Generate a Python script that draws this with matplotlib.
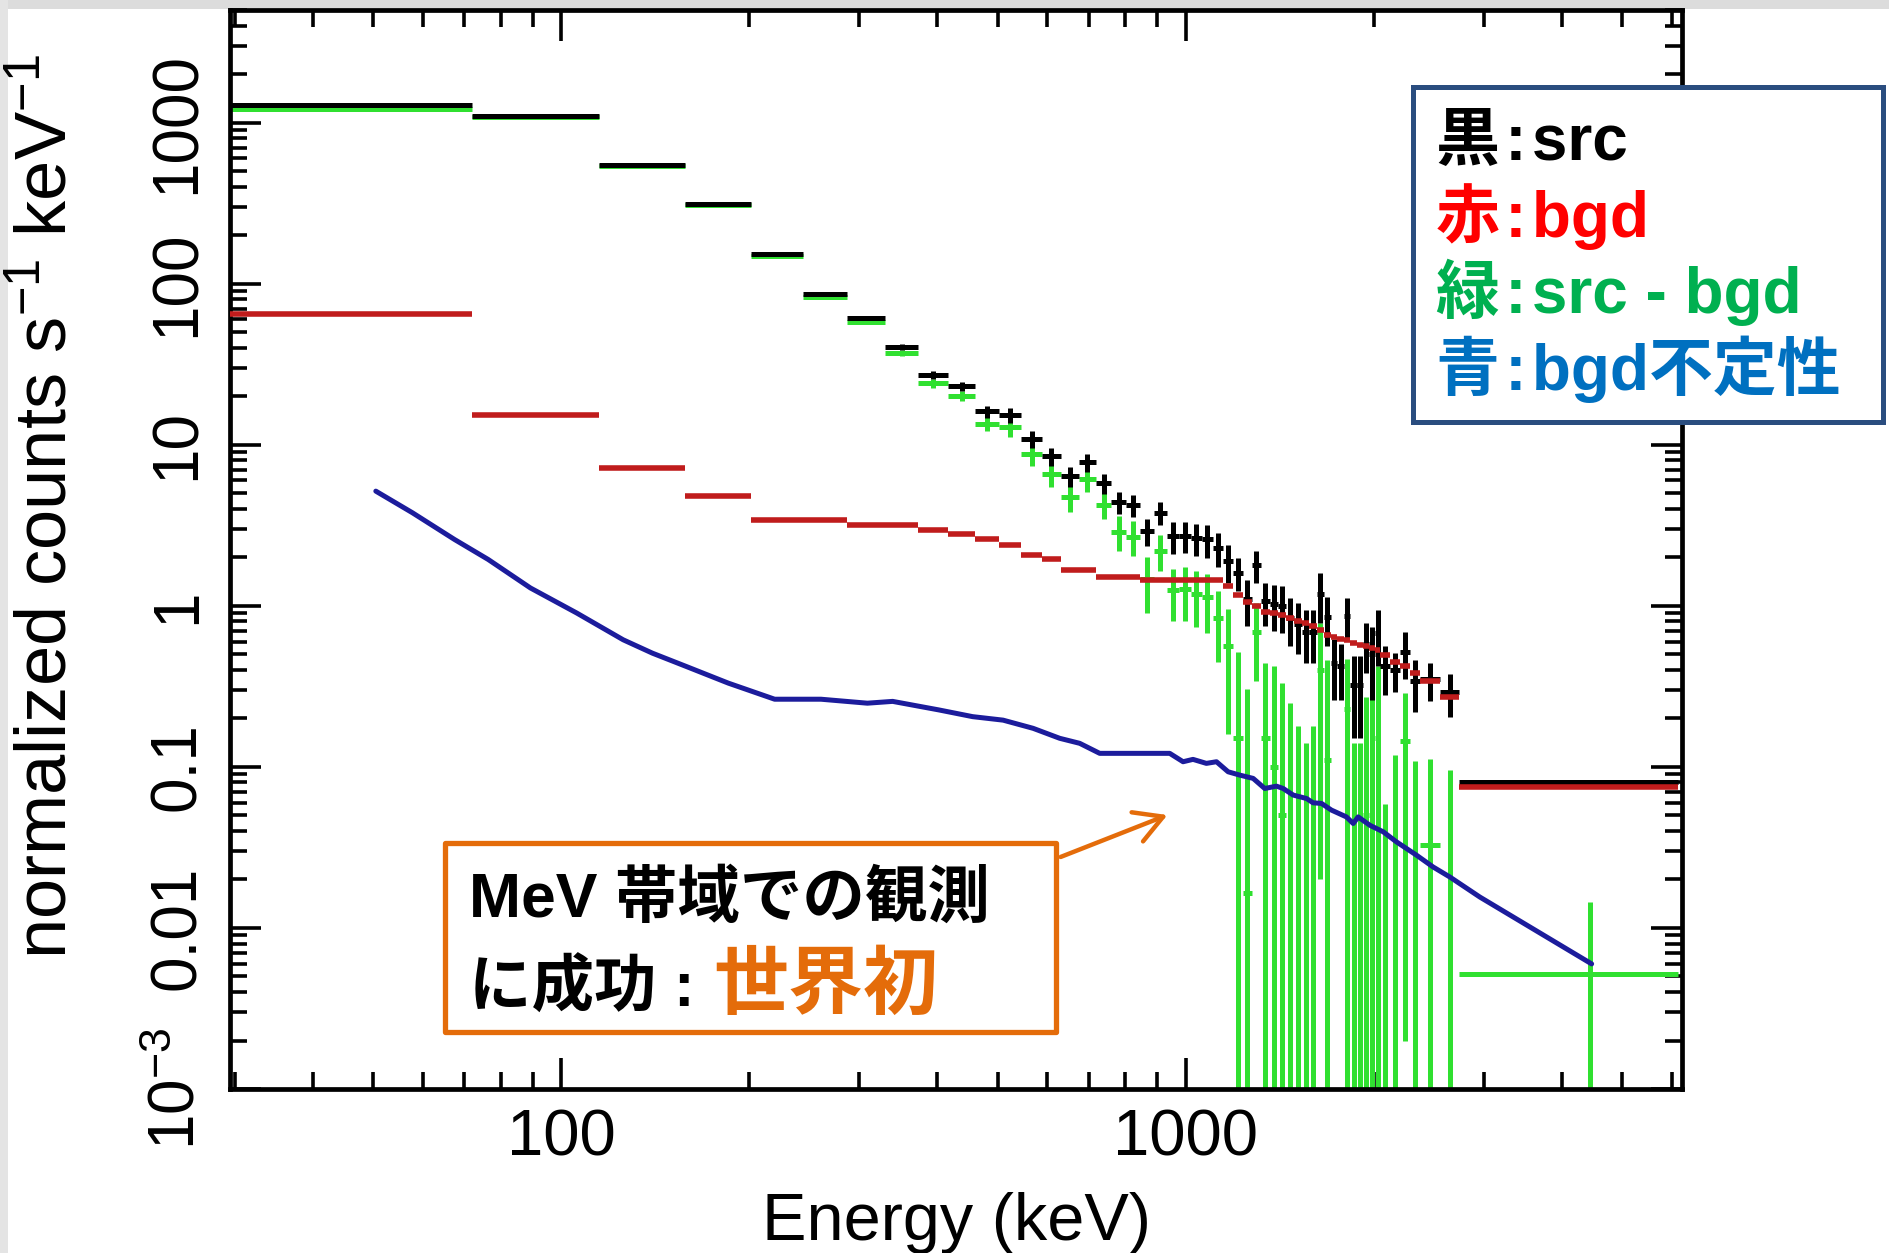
import matplotlib
matplotlib.use("Agg")
import matplotlib.pyplot as plt
from matplotlib.ticker import LogLocator, NullFormatter, FixedLocator, FixedFormatter
from matplotlib.patches import Rectangle, FancyArrowPatch
import numpy as np

plt.rcParams['font.family'] = ['Liberation Sans', 'Noto Sans CJK JP', 'DejaVu Sans']
plt.rcParams['mathtext.default'] = 'regular'

# energy bin edges (keV)
bin_edges = [29, 72, 115, 158, 201, 244, 287, 330, 373, 416,
             459, 502, 545, 588, 631, 674, 717, 760, 803, 846,
             889, 932, 975, 1018, 1061, 1104, 1147, 1190, 1233, 1276,
             1319, 1362, 1405, 1448, 1491, 1534, 1577, 1620, 1663, 1706,
             1749, 1792, 1835, 1878, 1921, 1964, 2007, 2050, 2120, 2205,
             2285, 2370, 2550, 2738, 6142]

# black: src
src = [1280, 1100, 545, 314, 152, 86, 61, 40.4, 27, 23,
       16.1, 15.2, 10.8, 8.5, 6.4, 7.8, 5.75, 4.4, 4.2, 2.91,
       3.78, 2.70, 2.73, 2.64, 2.58, 2.29, 1.89, 1.60, 1.10, 1.78,
       1.07, 1.02, 1.00, 0.84, 0.77, 0.69, 0.69, 1.19, 0.85, 0.44,
       0.42, 0.87, 0.32, 0.32, 0.58, 0.50, 0.68,
       0.42, 0.40, 0.52, 0.34, 0.35, 0.29,
       0.080]
src_err = [10, 10, 6, 4, 2.5, 2.0, 1.8, 1.6, 1.5, 1.5,
           1.4, 1.6, 1.3, 1.1, 0.9, 1.0, 0.8, 0.7, 0.65, 0.55,
           0.6, 0.6, 0.6, 0.6, 0.6, 0.55, 0.5, 0.37, 0.35, 0.40,
           0.32, 0.32, 0.32, 0.28, 0.27, 0.25, 0.25, 0.41, 0.29, 0.18,
           0.16, 0.25, 0.17, 0.17, 0.20, 0.24, 0.26,
           0.14, 0.11, 0.17, 0.12, 0.093, 0.085,
           0.003]

# red: bgd
bgd = [64.8, 15.2, 7.2, 4.83, 3.39, 3.39, 3.17, 3.17, 2.95, 2.8,
       2.6, 2.4, 2.08, 1.94, 1.68, 1.68, 1.51, 1.51, 1.51, 1.45,
       1.45, 1.45, 1.45, 1.45, 1.45, 1.45, 1.32, 1.17, 1.06, 0.99,
       0.92, 0.90, 0.88, 0.84, 0.80, 0.78, 0.745, 0.71, 0.66, 0.64,
       0.625, 0.615, 0.59, 0.57, 0.56, 0.545, 0.533,
       0.496, 0.45, 0.42, 0.382, 0.34, 0.273,
       0.0753]

# green: src - bgd
diff = [1215, 1085, 538, 309, 148.6, 82.6, 57.8, 37.2, 24.05, 20.2,
        13.5, 12.8, 8.72, 6.56, 4.72, 6.12, 4.24, 2.89, 2.69, 1.46,
        2.2, 1.25, 1.28, 1.19, 1.13, 0.84, 0.56, 0.15, 0.0165, 0.69,
        0.15, 0.10, 0.05, -0.03, -0.07, -0.09, -0.07, 0.40, 0.11, -0.20,
        -0.21, 0.23, -0.05, -0.05, 0.05, 0.0, 0.15,
        -0.08, -0.01, 0.145, -0.02, 0.0326, -0.01,
        0.00519]
diff_err = [10, 10, 6, 4, 2.5, 2.0, 1.8, 1.6, 1.5, 1.5,
            1.4, 1.6, 1.3, 1.1, 0.9, 1.0, 0.8, 0.7, 0.65, 0.56,
            0.55, 0.45, 0.47, 0.45, 0.45, 0.39, 0.40, 0.37, 0.29, 0.35,
            0.29, 0.32, 0.28, 0.28, 0.25, 0.23, 0.25, 0.38, 0.35, 0.18,
            0.16, 0.24, 0.19, 0.19, 0.22, 0.27, 0.27,
            0.139, 0.128, 0.143, 0.128, 0.08, 0.106,
            0.0094]

# blue: bgd uncertainty
unc_energy = [50.5, 57.8, 67.5, 76.4, 89.3, 105.9, 125.7, 140, 158.6, 185.2,
              219.7, 260.6, 309.2, 339.4, 402.4, 455.8, 510, 569.6, 628.4, 676.4,
              728.2, 875.6, 942.6, 990.1, 1027, 1079, 1120, 1169, 1220, 1282,
              1338, 1397, 1432, 1486, 1561, 1599, 1649, 1711, 1808, 1854,
              1888, 1971, 2071, 2175, 2341, 2489, 2648, 2957, 4465]
unc_value = [5.15, 3.78, 2.58, 1.94, 1.29, 0.902, 0.615, 0.508, 0.42, 0.331,
             0.263, 0.263, 0.2485, 0.255, 0.2257, 0.205, 0.195, 0.1735, 0.1504, 0.14,
             0.1213, 0.1213, 0.1213, 0.1076, 0.1113, 0.1051, 0.1076, 0.0932, 0.0889, 0.0848,
             0.0734, 0.0759, 0.0734, 0.0668, 0.0636, 0.0598, 0.0593, 0.0539, 0.0489, 0.0445,
             0.0489, 0.0434, 0.0395, 0.0342, 0.0283, 0.0239, 0.0207, 0.01555, 0.00598]

ytick_vals = [1e-3, 1e-2, 0.1, 1, 10, 100, 1000]
ytick_labels = ['10$^{-3}$', '0.01', '0.1', '1', '10', '100', '1000']
xtick_vals = [100, 1000]
xtick_labels = ['100', '1000']

W, H = 1889, 1253
def fx(x):
    return x / W
def fy(y):
    return 1 - y / H

fig = plt.figure(figsize=(W / 100, H / 100), dpi=100)
fig.patch.set_facecolor('white')
# slide-like gray strips on top and left
fig.add_artist(Rectangle((0, fy(9)), 1, 9 / H, transform=fig.transFigure,
                         facecolor='#dcdcdc', edgecolor='none', zorder=0))
fig.add_artist(Rectangle((0, 0), 8 / W, 1, transform=fig.transFigure,
                         facecolor='#e4e4e4', edgecolor='none', zorder=0))

ax = fig.add_axes([fx(230), fy(1089), (1682 - 230) / W, (1089 - 10) / H])

edges = np.array(bin_edges, dtype=float)
xc = (edges[:-1] + edges[1:]) / 2
xw = (edges[1:] - edges[:-1]) / 2

lw = 3.6
ax.errorbar(xc, diff, xerr=xw, yerr=diff_err, fmt='none', ecolor='#30e030',
            elinewidth=lw, capsize=0, zorder=2)
ax.errorbar(xc, src, xerr=xw, yerr=src_err, fmt='none', ecolor='black',
            elinewidth=lw, capsize=0, zorder=3)
ax.errorbar(xc, bgd, xerr=xw, fmt='none', ecolor='#c01c1c',
            elinewidth=lw + 0.4, capsize=0, zorder=4)
ax.plot(unc_energy, unc_value, color='#1c1c9c', lw=3.6, zorder=5,
        solid_joinstyle='round', solid_capstyle='round')

ax.set_xscale('log')
ax.set_yscale('log')
ax.set_xlim(29.5, 6230)
ax.set_ylim(1e-3, 5000)

ax.xaxis.set_major_locator(FixedLocator(xtick_vals))
ax.xaxis.set_major_formatter(FixedFormatter(xtick_labels))
ax.xaxis.set_minor_locator(LogLocator(base=10, subs=np.arange(2, 10), numticks=30))
ax.xaxis.set_minor_formatter(NullFormatter())
ax.yaxis.set_major_locator(FixedLocator(ytick_vals))
ax.yaxis.set_major_formatter(FixedFormatter(ytick_labels))
ax.yaxis.set_minor_locator(LogLocator(base=10, subs=np.arange(2, 10), numticks=30))
ax.yaxis.set_minor_formatter(NullFormatter())

for s in ax.spines.values():
    s.set_linewidth(3.4)
ax.tick_params(which='both', direction='in', top=True, right=True, width=2.6)
ax.tick_params(which='major', length=22)
ax.tick_params(which='minor', length=12)
ax.tick_params(axis='x', labelsize=47, pad=14)
ax.tick_params(axis='y', labelsize=46, pad=16)
for lab in ax.get_yticklabels():
    lab.set_rotation(90)
    lab.set_va('center')

fig.text(fx(956), fy(1240), 'Energy (keV)', fontsize=48, ha='center', va='baseline')
fig.text(fx(48), fy(506), 'normalized counts s$^{-1}$ keV$^{-1}$', fontsize=52,
         rotation=90, ha='center', va='center')

# legend box
fig.add_artist(Rectangle((fx(1413), fy(422)), (1883 - 1413) / W, (422 - 87) / H,
                         transform=fig.transFigure, facecolor='white',
                         edgecolor='#2a4d7f', lw=3.6, zorder=5))
sep = '\u200a:\u200a'
legend_rows = [('黒' + sep + 'src', '#000000', 160), ('赤' + sep + 'bgd', '#ff0000', 237),
               ('緑' + sep + 'src - bgd', '#00b050', 313),
               ('青' + sep + 'bgd不定性', '#0070c0', 390)]
for txt, col, base in legend_rows:
    fig.text(fx(1436), fy(base), txt, color=col, fontsize=46, fontweight='bold',
             ha='left', va='baseline', zorder=6)

# annotation box
orange = '#e46c0a'
fig.add_artist(Rectangle((fx(445), fy(1032)), (1056 - 445) / W, (1032 - 843) / H,
                         transform=fig.transFigure, facecolor='white',
                         edgecolor=orange, lw=3.8, joinstyle='round', zorder=5))
fig.text(fx(469), fy(917), 'MeV 帯域での観測', fontsize=45, fontweight='bold',
         ha='left', va='baseline', zorder=6)
fig.text(fx(469), fy(1007), 'に成功 : ', fontsize=45, fontweight='bold',
         ha='left', va='baseline', zorder=6)
fig.text(fx(713), fy(1008), '世界初', fontsize=54, fontweight='bold', color=orange,
         ha='left', va='baseline', zorder=6)
fig.add_artist(FancyArrowPatch((fx(1058), fy(858)), (fx(1170), fy(814)),
                               transform=fig.transFigure,
                               arrowstyle='->,head_length=0.8,head_width=0.45',
                               mutation_scale=25, color=orange, lw=3.2, zorder=6))

fig.savefig('out.png', dpi=100)
